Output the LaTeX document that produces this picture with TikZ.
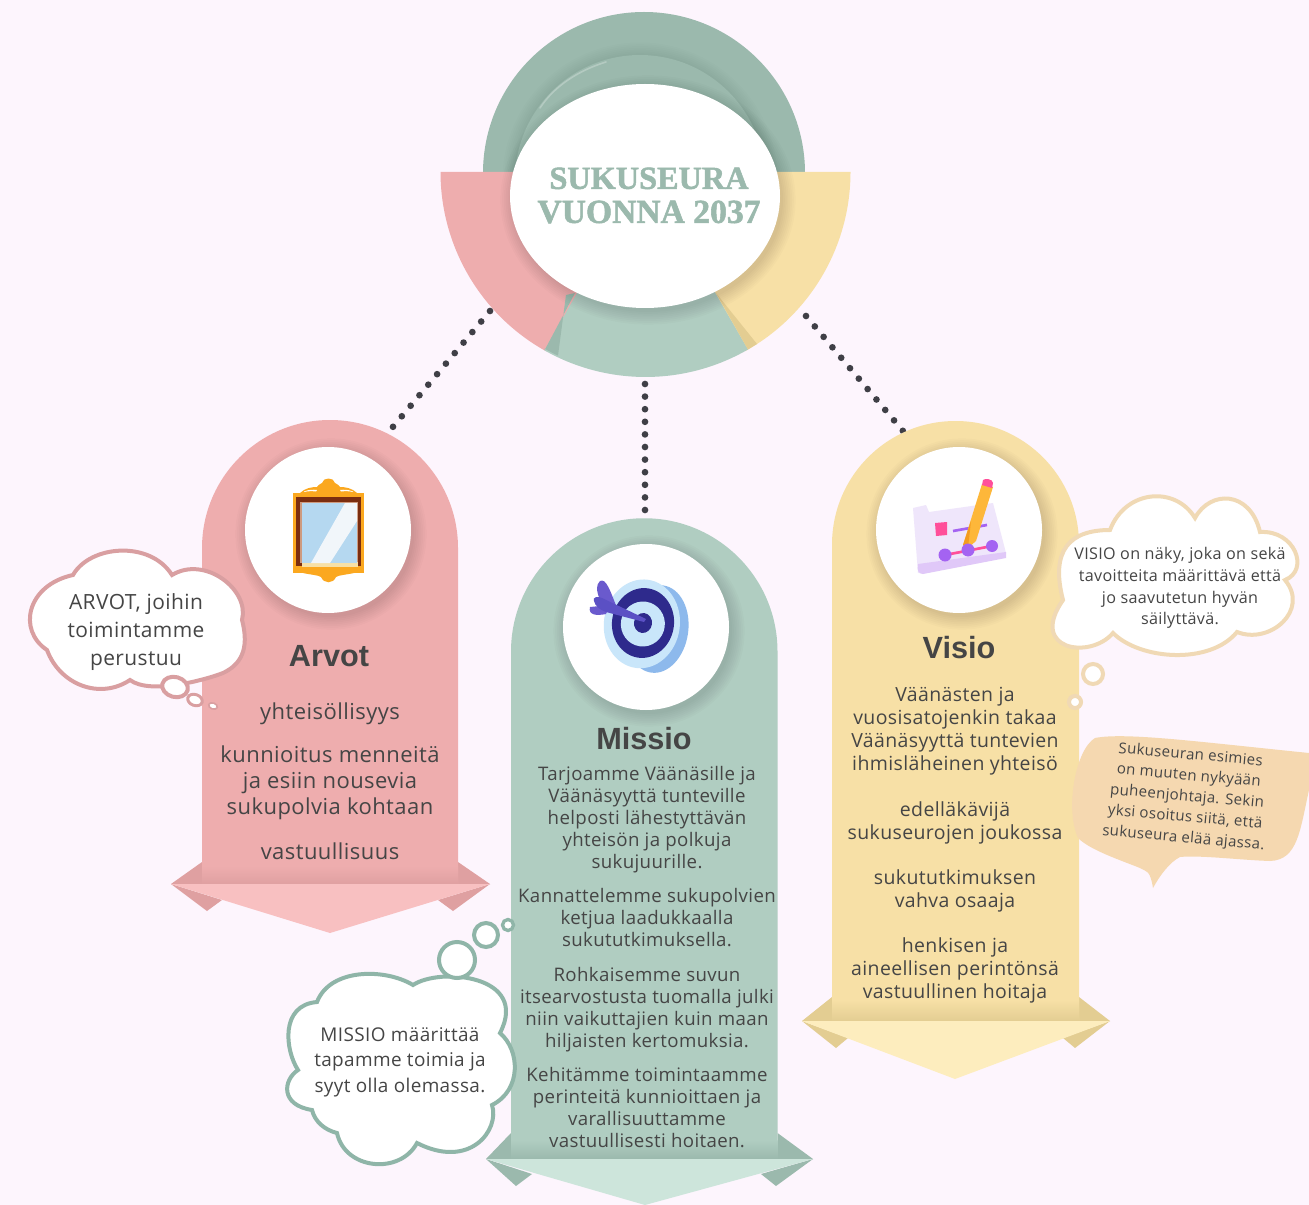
\documentclass[tikz,border=0pt]{standalone}
\usepackage{fontspec}
\setmainfont{Open Sans}[LetterSpace=2]
\newfontfamily\titlefont{Liberation Serif}[BoldFeatures={FakeBold=1.6}]
\newfontfamily\headfont{Liberation Sans}
\usetikzlibrary{shapes.geometric}
\definecolor{bgc}{HTML}{FDF5FD}
\definecolor{tealA}{HTML}{9BB9AD}
\definecolor{tealB}{HTML}{B0CDC1}
\definecolor{tealC}{HTML}{CDE5DB}
\definecolor{tealLine}{HTML}{8FB5A8}
\definecolor{pinkA}{HTML}{EEADAE}
\definecolor{pinkB}{HTML}{F8C0C1}
\definecolor{pinkD}{HTML}{DFA0A1}
\definecolor{pinkLine}{HTML}{D99FA1}
\definecolor{yelA}{HTML}{F7E0A6}
\definecolor{yelB}{HTML}{FDEDBE}
\definecolor{yelD}{HTML}{E3CD92}
\definecolor{sandLine}{HTML}{F0D9B5}
\definecolor{sandFill}{HTML}{F5D8B0}
\definecolor{txt}{HTML}{454545}
\definecolor{dotc}{HTML}{3F3F46}
\definecolor{mirrorO}{HTML}{FBA81F}
\definecolor{mirrorB}{HTML}{7B2D0F}
\definecolor{mirrorT}{HTML}{CE9A7E}
\definecolor{mirrorG}{HTML}{B5D8F0}
\definecolor{mirrorW}{HTML}{F1F6FA}
\definecolor{tgtBack}{HTML}{8DB9EC}
\definecolor{tgtLight}{HTML}{C9E6FA}
\definecolor{tgtDark}{HTML}{2E2A8C}
\definecolor{tgtFeather}{HTML}{6A5ACD}
\definecolor{tgtFeatherB}{HTML}{5B50C4}
\definecolor{planA}{HTML}{EFE6FB}
\definecolor{planB}{HTML}{E0C8F8}
\definecolor{planP}{HTML}{FF4F9A}
\definecolor{planV}{HTML}{A463F2}
\definecolor{planO}{HTML}{FDB73A}
\definecolor{planOd}{HTML}{F39C1F}
\newcommand\softshadow[4]{\foreach \i in {0,...,7}{\fill[black,opacity=.014] (#1+3,#2+4) ellipse [x radius=#3+\i*1.8, y radius=#4+\i*1.8];}}
\tikzset{
  x=.75pt,y=-.75pt,
  dotlink/.style={draw=dotc,line width=5pt,line cap=round,dash pattern=on 0pt off #1},
  iconcircle/.style={circle,fill=white,minimum size=124.5pt,inner sep=0},
  heading/.style={font=\headfont\fontsize{23}{26}\selectfont\bfseries,text=txt,inner sep=0},
  arvotbody/.style={font=\fontsize{16.5}{19.5}\selectfont,text=txt,align=center,inner sep=0},
  missiobody/.style={font=\fontsize{14}{16.5}\selectfont,text=txt,align=center,inner sep=0},
  visiobody/.style={font=\fontsize{14.6}{17.25}\selectfont,text=txt,align=center,inner sep=0},
  cloudpink/.style={draw=pinkLine,line width=3pt,fill=white},
  cloudteal/.style={draw=tealLine,line width=3pt,fill=white},
  cloudsand/.style={draw=sandLine,line width=3pt,fill=white},
}
\begin{document}
\begin{tikzpicture}
\fill[bgc] (0,0) rectangle (1309,1205);
\useasboundingbox (0,0) rectangle (1309,1205);
% hub dome
\fill[tealA] (483,173) arc[start angle=180,end angle=360,radius=161] -- cycle;
\foreach \i in {0,...,7}{\fill[black,opacity=.008] (640,180) circle[radius=125+\i*1.8];}
\fill[tealA] (640,180) circle[radius=125];
\draw[white,opacity=.25,line width=1.2pt,line cap=round] (540,108) .. controls (555,85) and (580,70) .. (606,62);
% half ring
\fill[pinkA] (645.5,172) -- (440.5,172) arc[start angle=180,end angle=119,radius=205] -- cycle;
\fill[yelA] (645.5,172) -- (850.5,172) arc[start angle=0,end angle=61,radius=205] -- cycle;
\fill[tealB] (645.5,172) -- (544.5,350.4) arc[start angle=119.5,end angle=60,radius=205] -- cycle;
\fill[tealA] (544.5,350.4) -- (575,293) -- (566,295) -- (558,355.6) arc[start angle=115.3,end angle=119.5,radius=205] -- cycle;
\fill[yelD] (748,349.5) -- (716,293) -- (757,344) arc[start angle=59,end angle=60,radius=205] -- cycle;
% hub
\softshadow{645}{196}{135}{112}
\node[ellipse,fill=white,minimum width=202.5pt,minimum height=168pt,inner sep=0] (hub) at (645,196) {};
\node[font=\titlefont\fontsize{24.2}{25.5}\selectfont\bfseries,text=tealA,align=center,inner sep=0] (title) at (649,195.5) {SUKUSEURA\\{\fontsize{25.2}{25.5}\selectfont VUONNA 2037}};
% dotted connector behind the Visio panel
\coordinate (hubR) at (806,316);
\coordinate (visioTop) at (903,431);
\draw[dotlink=10.24pt] (hubR) -- (visioTop);
% Arvot panel
\fill[pinkD] (202,862) -- (171,884) -- (202,884) -- cycle;
\fill[pinkD] (458,862) -- (490,884) -- (458,884) -- cycle;
\fill[pinkD] (171,884) -- (207,911) -- (222,900) -- cycle;
\fill[pinkD] (490,884) -- (453,911) -- (438,900) -- cycle;
\fill[pinkA] (202,884) -- (202,548) arc[start angle=180,end angle=360,radius=128] -- (458,884) -- cycle;
\shade[top color=pinkA,bottom color=pinkD] (202,866) rectangle (458,884);
\fill[pinkB] (171,884) -- (490,884) -- (330,933) -- cycle;
% Visio panel
\fill[yelD] (832,997) -- (802,1021) -- (832,1021) -- cycle;
\fill[yelD] (1079,997) -- (1110,1021) -- (1079,1021) -- cycle;
\fill[yelD] (802,1021) -- (836,1048) -- (848,1038) -- cycle;
\fill[yelD] (1110,1021) -- (1075,1048) -- (1063,1038) -- cycle;
\fill[yelA] (832,1021) -- (832,544.5) arc[start angle=180,end angle=360,radius=123.5] -- (1079,1021) -- cycle;
\shade[top color=yelA,bottom color=yelD] (832,1000) rectangle (1079,1021);
\fill[yelB] (802,1021) -- (1110,1021) -- (955,1079) -- cycle;
% Missio panel
\fill[tealA] (511,1133) -- (486,1159) -- (511,1159) -- cycle;
\fill[tealA] (777.5,1133) -- (813,1159) -- (777.5,1159) -- cycle;
\fill[tealA] (486,1159) -- (516,1186) -- (532,1174) -- cycle;
\fill[tealA] (813,1159) -- (776,1186) -- (761,1174) -- cycle;
\fill[tealB] (511,1159) -- (511,651.5) arc[start angle=180,end angle=360,radius=133.25] -- (777.5,1159) -- cycle;
\shade[top color=tealB,bottom color=tealA] (511,1140) rectangle (777.5,1159);
\fill[tealC] (486,1159) -- (813,1159) -- (645,1205) -- cycle;
% icon circles
\softshadow{328}{530}{83}{83}
\node[iconcircle] (arvoticon) at (328,530) {};
\softshadow{646}{627}{83}{83}
\node[iconcircle] (missioicon) at (646,627) {};
\softshadow{959}{530}{83}{83}
\node[iconcircle] (visioicon) at (959,530) {};
% mirror icon
\fill[mirrorO] (293,493) rectangle (364,573);
\fill[mirrorO] (300,493) .. controls (305,488) and (312,487) .. (317,487) .. controls (319,484) and (321,484) .. (322,483) .. controls (323,477) and (334,477) .. (335,483) .. controls (336,484) and (338,484) .. (340,487) .. controls (345,487) and (352,488) .. (357,493) -- cycle;
\fill[mirrorO] (303,573) .. controls (312,575) and (318,575) .. (321,577) .. controls (324,584) and (333,584) .. (336,577) .. controls (339,575) and (345,575) .. (354,573) -- cycle;
\fill[white] (304,491.5) .. controls (309,489.5) and (313,489.5) .. (317,490) -- (316,491.5) .. controls (312,491) and (308,491) .. (304,492) -- cycle;
\fill[white] (353,491.5) .. controls (348,489.5) and (344,489.5) .. (340,490) -- (341,491.5) .. controls (345,491) and (349,491) .. (353,492) -- cycle;
\fill[mirrorB] (296,497) rectangle (361,566);
\fill[mirrorT] (300,502) rectangle (358,563);
\fill[yelA] (302,562) rectangle (358,567);
\fill[mirrorG] (302,503) rectangle (357,563);
\fill[mirrorW] (345,503) -- (357,503) -- (357,521) -- (330,563) -- (311,563) -- cycle;
% target icon
\begin{scope}[rotate around={-8:(643,623)}]
\fill[tgtBack] (658,627) ellipse[x radius=31,y radius=44];
\fill[tgtLight] (642,624) ellipse[x radius=38,y radius=44.5];
\fill[tgtDark] (643,623) ellipse[x radius=31,y radius=35];
\fill[tgtLight] (643,624) ellipse[x radius=22,y radius=22.5];
\fill[tgtDark] (643,623) ellipse[x radius=9,y radius=10];
\end{scope}
\fill[tgtFeather] (600,581) .. controls (606,578) and (610,590) .. (617,608) -- (600,600) .. controls (596,590) and (596,585) .. (600,581) -- cycle;
\fill[tgtFeather] (590,607) -- (610,605) -- (606,614) .. controls (596,616) and (588,615) .. (590,607) -- cycle;
\fill[tgtFeatherB] (594,601) .. controls (592,597) and (598,596) .. (602,598) -- (646,619) -- (644,622) -- (606,612) .. controls (600,610) and (595,606) .. (594,601) -- cycle;
% plan icon
\fill[planA] (913,508) -- (926,505) -- (929,512) -- (993,503) -- (1006,553) -- (918,573) -- cycle;
\fill[planB] (918,564) -- (1006,552) -- (1006,558) -- (923,574) .. controls (918,574) and (917,570) .. (918,564) -- cycle;
\fill[planP] (935,523) -- (947,522) -- (947,535) -- (936,536) -- cycle;
\draw[planV,line width=2pt] (953,531) -- (987,525);
\draw[planP,line width=2pt] (945,555) -- (992,546);
\fill[planO] (963,545) -- (982,484) -- (993,487) -- (976,541) -- (968,548) -- cycle;
\fill[planOd] (963,545) -- (971,521) -- (968,548) -- cycle;
\fill[planP] (983,480) .. controls (985,478) and (993,479) .. (993,483) -- (992,488) -- (982,485) -- cycle;
\fill[planV] (945,555) circle[radius=6.5];
\fill[planV] (968,550) circle[radius=6.5];
\fill[planV] (992,546) circle[radius=6];
% headings
\node[heading] (arvoth) at (329,656) {Arvot};
\node[heading] (missioh) at (644,739) {Missio};
\node[heading] (visioh) at (959,648) {Visio};
% Arvot text
\node[arvotbody] (a1) at (330,713.5) {yhteisöllisyys};
\node[arvotbody] (a2) at (330,782.5) {kunnioitus menneitä\\ja esiin nousevia\\sukupolvia kohtaan};
\node[arvotbody] (a3) at (330,851) {vastuullisuus};
% Missio text
\node[missiobody] (m1) at (647,819.5) {Tarjoamme Väänäsille ja\\Väänäsyyttä tunteville\\helposti lähestyttävän\\yhteisön ja polkuja\\sukujuurille.};
\node[missiobody] (m2) at (647,918) {Kannattelemme sukupolvien\\ketjua laadukkaalla\\sukututkimuksella.};
\node[missiobody] (m3) at (647,1009.5) {Rohkaisemme suvun\\itsearvostusta tuomalla julki\\niin vaikuttajien kuin maan\\hiljaisten kertomuksia.};
\node[missiobody] (m4) at (647,1108) {Kehitämme toimintaamme\\perinteitä kunnioittaen ja\\varallisuuttamme\\vastuullisesti hoitaen.};
% Visio text
\node[visiobody] (v1) at (955,731) {Väänästen ja\\vuosisatojenkin takaa\\Väänäsyyttä tuntevien\\ihmisläheinen yhteisö};
\node[visiobody] (v2) at (955,823) {edelläkävijä\\sukuseurojen joukossa};
\node[visiobody] (v3) at (955,891) {sukututkimuksen\\vahva osaaja};
\node[visiobody] (v4) at (955,970) {henkisen ja\\aineellisen perintönsä\\vastuullinen hoitaja};
% Arvot cloud
\filldraw[cloudpink] (73,575) .. controls (90,545) and (150,540) .. (172,575)
 .. controls (205,555) and (250,590) .. (242,620)
 .. controls (250,650) and (240,665) .. (223,673)
 .. controls (205,680) and (150,695) .. (130,680)
 .. controls (100,700) and (60,685) .. (47,650)
 .. controls (17,630) and (27,585) .. (73,575) -- cycle;
\node[font=\fontsize{15.7}{21}\selectfont,text=txt,align=center,inner sep=0] (arvotcloud) at (136,632) {ARVOT, joihin\\toimintamme\\perustuu};
\filldraw[cloudpink,rotate around={-15:(175,687)}] (175,687) ellipse[x radius=13,y radius=10];
\filldraw[cloudpink,line width=2.2pt,rotate around={-20:(195,700)}] (195,700) ellipse[x radius=7.5,y radius=5.5];
\filldraw[draw=pinkLine,line width=1.2pt,fill=white,rotate around={-20:(213,706)}] (213,706) ellipse[x radius=4.5,y radius=3];
% Missio cloud
\filldraw[cloudteal] (317,1002) .. controls (330,968) and (385,968) .. (413,985)
 .. controls (440,967) and (530,975) .. (500,1033)
 .. controls (520,1050) and (522,1090) .. (492,1105)
 .. controls (500,1130) and (470,1170) .. (417,1143)
 .. controls (400,1175) and (345,1170) .. (337,1133)
 .. controls (325,1130) and (315,1122) .. (312,1110)
 .. controls (280,1105) and (283,1080) .. (298,1070)
 .. controls (285,1050) and (280,1005) .. (317,1002) -- cycle;
\node[font=\fontsize{14.2}{19}\selectfont,text=txt,align=center,inner sep=0] (missiocloud) at (400,1062) {MISSIO määrittää\\tapamme toimia ja\\syyt olla olemassa.};
\filldraw[cloudteal] (457,960) circle[radius=18];
\filldraw[cloudteal] (486,935) circle[radius=12];
\filldraw[cloudteal,line width=2.5pt] (508,925) circle[radius=5.5];
% Visio cloud
\filldraw[cloudsand] (1110,530) .. controls (1125,490) and (1175,485) .. (1195,518)
 .. controls (1210,490) and (1250,490) .. (1260,532)
 .. controls (1295,530) and (1310,570) .. (1285,580)
 .. controls (1310,610) and (1270,645) .. (1237,632)
 .. controls (1210,665) and (1140,660) .. (1113,633)
 .. controls (1090,660) and (1028,650) .. (1063,600)
 .. controls (1050,550) and (1070,530) .. (1110,530) -- cycle;
\node[font=\fontsize{12.1}{16.3}\selectfont,text=txt,align=center,inner sep=0] (visiocloud) at (1180,588) {VISIO on näky, joka on sekä\\tavoitteita määrittävä että\\jo saavutetun hyvän\\säilyttävä.};
\filldraw[cloudsand] (1093,674) circle[radius=10];
\filldraw[cloudsand] (1075,702) circle[radius=6];
% speech bubble
\fill[sandFill] (1095,738) .. controls (1125,732) and (1200,742) .. (1309,753) -- (1309,790)
 .. controls (1300,830) and (1298,860) .. (1270,861) .. controls (1240,860) and (1200,855) .. (1180,857)
 .. controls (1170,862) and (1160,875) .. (1153,888) .. controls (1150,870) and (1147,872) .. (1140,868)
 .. controls (1120,860) and (1090,850) .. (1078,838) .. controls (1065,810) and (1075,750) .. (1095,738) -- cycle;
\node[font=\fontsize{11.3}{15.6}\selectfont,text=txt,align=center,inner sep=0,rotate=-5] (speech) at (1187,797) {Sukuseuran esimies\\on muuten nykyään\\puheenjohtaja. Sekin\\yksi osoitus siitä, että\\sukuseura elää ajassa.};
% dotted connectors
\coordinate (hubL) at (490,311);
\coordinate (hubM) at (645,384);
\coordinate (arvotTop) at (392,428);
\coordinate (missioTop) at (645,511);
\draw[dotlink=10.3pt] (hubL) -- (arvotTop);
\draw[dotlink=9.45pt] (hubM) -- (missioTop);
\end{tikzpicture}
\end{document}
